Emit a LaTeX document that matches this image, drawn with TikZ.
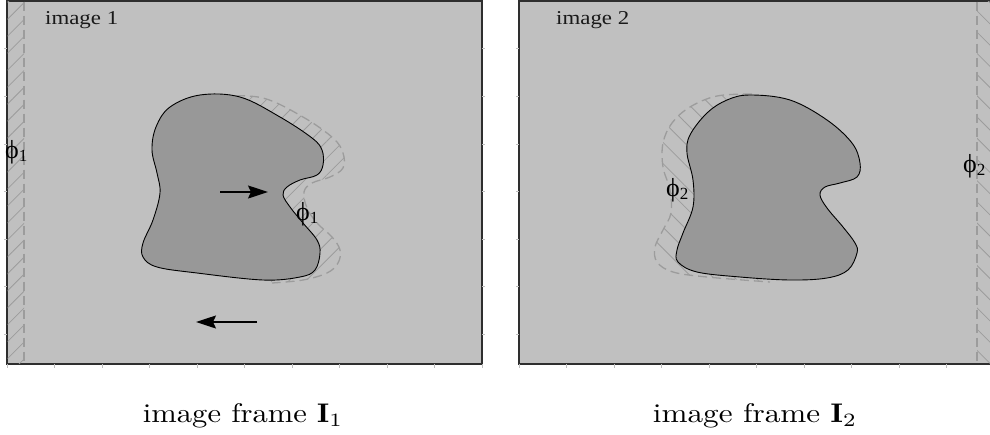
\documentclass[tikz,border=0pt]{standalone}
\usepackage{fontspec}
\newfontfamily\labelfont{Liberation Serif}
\usetikzlibrary{patterns.meta,arrows.meta}

\definecolor{framebg}{HTML}{C0C0C0}
\definecolor{blobfill}{HTML}{989898}
\definecolor{hatchgray}{HTML}{9C9C9C}
\definecolor{edgegray}{HTML}{2E2E2E}

\tikzset{
  framebox/.style={draw=edgegray,line width=1.2pt,fill=framebg},
  blob/.style={draw=black,line width=0.9pt,fill=blobfill},
  levelline/.style={draw=hatchgray,line width=1.3pt,dash pattern=on 9pt off 5pt},
  hatchNE/.style={pattern={Lines[angle=45,distance=12pt,line width=0.8pt]},pattern color=hatchgray},
  hatchNW/.style={pattern={Lines[angle=-45,distance=15pt,line width=0.8pt]},pattern color=hatchgray},
  tickmark/.style={draw=black!25,line width=0.5pt},
  motion/.style={line width=1.4pt,-{Stealth[length=20pt,width=13pt,inset=3pt]}},
  cornerlabel/.style={anchor=base west,inner sep=0pt,text=black!90,font=\labelfont},
  philabel/.style={anchor=base west,inner sep=0pt,text=black,
    font=\labelfont\fontsize{26}{27}\selectfont},
  caption/.style={anchor=base,inner sep=0pt}
}
\newcommand{\phisub}[1]{ϕ\raisebox{-3.5pt}{\fontsize{17}{18}\selectfont #1}}

\begin{document}
\begin{tikzpicture}[x=1pt,y=-1pt]
\useasboundingbox (0,0) rectangle (990,434);
\clip (0,0) rectangle (990,434);

% ---------- frame 1 ----------
\path[framebox] (7,1) rectangle (482,364);
\foreach \k in {1,...,7} {
  \draw[tickmark] (4,{1+47.6*\k}) -- (7,{1+47.6*\k});
  \draw[tickmark] (482,{1+47.6*\k}) -- (485,{1+47.6*\k});
}
\foreach \k in {0,...,10} \draw[tickmark] ({7+47.5*\k},364) -- ({7+47.5*\k},368);

% hatched boundary strip on the left edge
\path[hatchNE] (7.6,1.6) rectangle (24,363.4);
\draw[levelline] (24,1.6) -- (24,363.4);

% hatched band between the object and its dashed contour
\path[hatchNE] plot[smooth,tension=0.6] coordinates {
  (222,96) (263,98) (303,117) (333,138) (343,153) (343,168) (330,177)
  (312,183) (304,192) (307,208) (317,223) (332,237) (340,250) (338,263)
  (327,273) (303,280) (272,283)}
  -- (250,250) -- (240,120) -- cycle;
\draw[levelline] plot[smooth,tension=0.6] coordinates {
  (222,96) (263,98) (303,117) (333,138) (343,153) (343,168) (330,177)
  (312,183) (304,192) (307,208) (317,223) (332,237) (340,250) (338,263)
  (327,273) (303,280) (272,283)};

\path[blob] plot[smooth cycle,tension=0.6] coordinates {
  (200,95) (240,97) (280,117) (312,138) (322,150) (323,165) (317,175)
  (300,180) (287,187) (283,195) (290,207) (303,223) (317,240) (320,253)
  (315,270) (300,277) (263,280) (197,273) (157,267) (143,257) (143,243)
  (153,220) (160,193) (157,173) (152,150) (156,127) (170,107)};

\coordinate (m1a) at (220,192);
\coordinate (m1b) at (268,192);
\draw[motion] (m1a) -- (m1b);
\coordinate (m2a) at (257,322);
\coordinate (m2b) at (196,322);
\draw[motion] (m2a) -- (m2b);

\node[cornerlabel] (t1) at (45,24) {\resizebox{73pt}{13pt}{image 1}};
\node[philabel] (p1a) at (5,158) {\phisub{1}};
\node[philabel] (p1b) at (296,220) {\phisub{1}};

% ---------- frame 2 ----------
\path[framebox] (519,1) rectangle (994,364);
\foreach \k in {1,...,7} \draw[tickmark] (516,{1+47.6*\k}) -- (519,{1+47.6*\k});
\foreach \k in {0,...,10} \draw[tickmark] ({519+47.5*\k},364) -- ({519+47.5*\k},368);

% hatched boundary strip on the right edge
\path[hatchNW] (977,1.6) rectangle (993.4,363.4);
\draw[levelline] (977,1.6) -- (977,363.4);

\path[hatchNW] plot[smooth,tension=0.6] coordinates {
  (752,94) (717,96) (690,107) (672,123) (663,143) (663,167) (670,190)
  (671,213) (663,230) (655,247) (657,262) (673,272) (707,277) (770,282)}
  -- (745,250) -- (740,110) -- cycle;
\draw[levelline] plot[smooth,tension=0.6] coordinates {
  (752,94) (717,96) (690,107) (672,123) (663,143) (663,167) (670,190)
  (671,213) (663,230) (655,247) (657,262) (673,272) (707,277) (770,282)};

\path[blob] plot[smooth cycle,tension=0.6] coordinates {
  (750,95) (790,100) (827,120) (852,143) (860,163) (857,177) (840,183)
  (825,187) (820,195) (827,208) (843,227) (855,243) (857,253) (848,270)
  (827,278) (790,280) (740,277) (697,272) (678,262) (677,250) (683,233)
  (693,207) (693,180) (687,153) (690,135) (707,113) (727,100)};

\node[cornerlabel] (t2) at (556,24) {\resizebox{73pt}{13pt}{image 2}};
\node[philabel] (p2a) at (666,196) {\phisub{2}};
\node[philabel] (p2b) at (963,172) {\phisub{2}};

% ---------- captions ----------
\node[caption] (c1) at (243,422) {\resizebox{200pt}{19pt}{image frame $\mathbf{I}_1$}};
\node[caption] (c2) at (755,422) {\resizebox{204pt}{19pt}{image frame $\mathbf{I}_2$}};
\end{tikzpicture}
\end{document}
